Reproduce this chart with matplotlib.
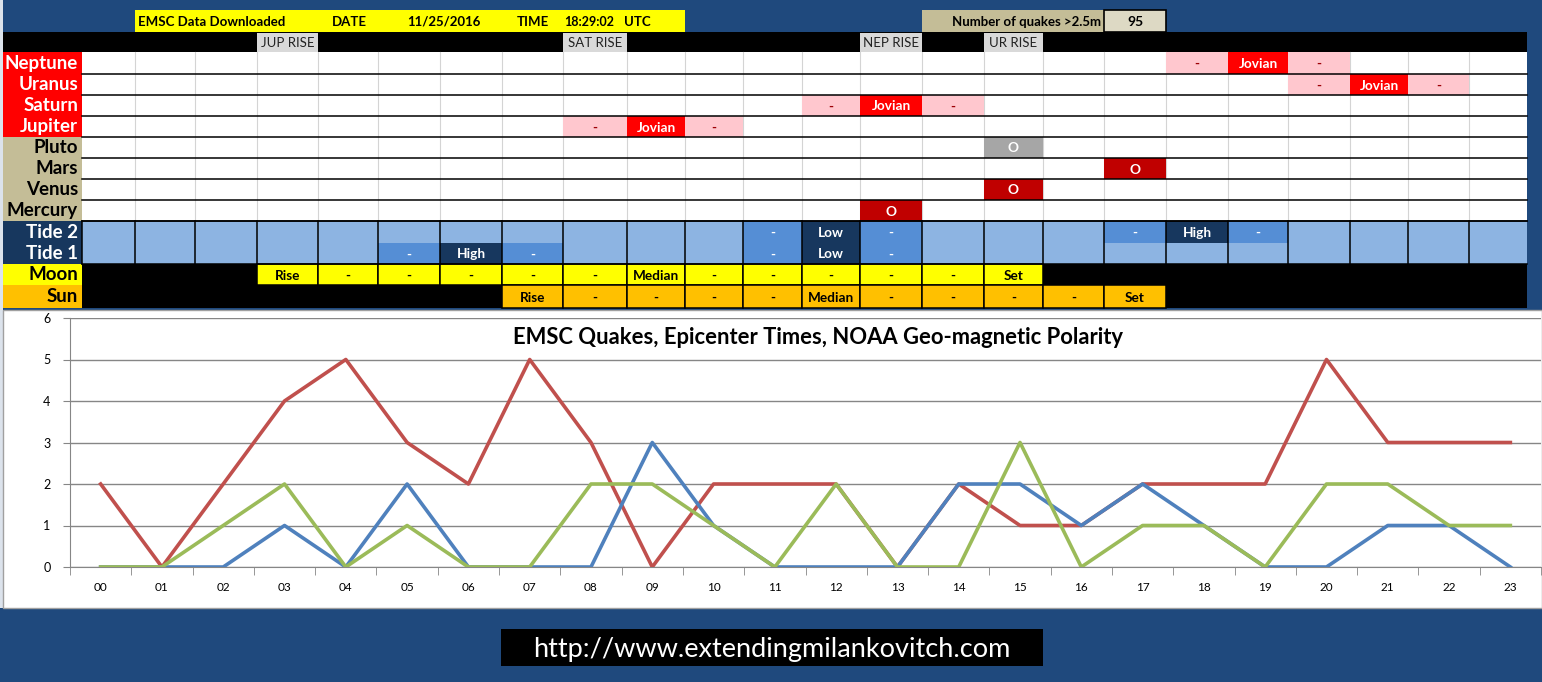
import matplotlib.pyplot as plt
from matplotlib.patches import Rectangle

# chart data: quakes per hour (UTC)
hours = ['00', '01', '02', '03', '04', '05', '06', '07', '08', '09', '10', '11',
         '12', '13', '14', '15', '16', '17', '18', '19', '20', '21', '22', '23']
red_counts = [2, 0, 2, 4, 5, 3, 2, 5, 3, 0, 2, 2, 2, 0, 2, 1, 1, 2, 2, 2, 5, 3, 3, 3]
blue_counts = [0, 0, 0, 1, 0, 2, 0, 0, 0, 3, 1, 0, 0, 0, 2, 2, 1, 2, 1, 0, 0, 1, 1, 0]
green_counts = [0, 0, 1, 2, 0, 1, 0, 0, 2, 2, 1, 0, 2, 0, 0, 3, 0, 1, 1, 0, 2, 2, 1, 1]

# table data: hour -> cell text
planet_labels = ['Neptune', 'Uranus', 'Saturn', 'Jupiter', 'Pluto', 'Mars', 'Venus', 'Mercury']
neptune = {18: '-', 19: 'Jovian', 20: '-'}
uranus = {20: '-', 21: 'Jovian', 22: '-'}
saturn = {12: '-', 13: 'Jovian', 14: '-'}
jupiter = {8: '-', 9: 'Jovian', 10: '-'}
pluto = {15: 'O'}
mars = {17: 'O'}
venus = {15: 'O'}
mercury = {13: 'O'}
tide2 = {11: '-', 12: 'Low', 13: '-', 17: '-', 18: 'High', 19: '-'}
tide1 = {5: '-', 6: 'High', 7: '-', 11: '-', 12: 'Low', 13: '-'}
moon_start = 3
moon = ['Rise', '-', '-', '-', '-', '-', 'Median', '-', '-', '-', '-', '-', 'Set']
sun_start = 7
sun = ['Rise', '-', '-', '-', '-', 'Median', '-', '-', '-', '-', 'Set']
rise_labels = {3: 'JUP RISE', 8: 'SAT RISE', 13: 'NEP RISE', 15: 'UR RISE'}
quake_total = 95

W, H = 1542, 682
NAVY = '#1F497D'
col_edges = [82, 135, 195, 257, 318, 378, 440, 502, 563, 627, 685, 743, 802,
             860, 922, 984, 1043, 1104, 1166, 1228, 1288, 1350, 1408, 1469, 1527]
row_edges = [52, 74, 95, 116, 137, 158, 179, 200, 221, 243, 264, 285, 308]
plt.rcParams['font.family'] = ['Lato', 'DejaVu Sans']

fig = plt.figure(figsize=(W / 100, H / 100), dpi=100)
fig.patch.set_facecolor(NAVY)
bg = fig.add_axes([0, 0, 1, 1])
bg.set_xlim(0, W)
bg.set_ylim(H, 0)
bg.axis('off')


def box(x0, y0, x1, y1, color, edge='none', lw=0, z=1):
    bg.add_patch(Rectangle((x0, y0), x1 - x0, y1 - y0, facecolor=color,
                           edgecolor=edge, linewidth=lw, zorder=z))


def cell(col, r0, r1, color, text, tcolor, size=9.8, edge='none', lw=0):
    x0, x1 = col_edges[col], col_edges[col + 1]
    y0, y1 = row_edges[r0], row_edges[r1]
    box(x0, y0, x1, y1, color, edge, lw, z=3)
    bg.text((x0 + x1) / 2, (y0 + y1) / 2 + 1, text, color=tcolor, fontsize=size,
            fontweight='bold', ha='center', va='center', zorder=4)


# left strip
box(0, 0, 3, 608, '#DCE3EC')

# header
box(col_edges[1], 10, col_edges[10], 32, '#FFFF00')
for x, t in [(138, 'EMSC Data Downloaded'), (332, 'DATE'), (407, '11/25/2016'),
             (517, 'TIME')]:
    bg.text(x, 22, t, fontsize=9.5, fontweight='bold', ha='left', va='center')
bg.text(564, 22, '18:29:02', fontsize=9, fontweight='bold', ha='left', va='center')
bg.text(624, 22, 'UTC', fontsize=9.5, fontweight='bold', ha='left', va='center')
box(col_edges[14], 10, col_edges[17], 32, '#C4BD97')
bg.text(col_edges[17] - 3, 22, 'Number of quakes >2.5m', fontsize=9.5,
        fontweight='bold', ha='right', va='center')
box(col_edges[17], 10, col_edges[18], 32, '#DDD9C4', 'black', 1.2, z=2)
bg.text((col_edges[17] + col_edges[18]) / 2, 22, str(quake_total), fontsize=10,
        fontweight='bold', ha='center', va='center', zorder=3)

# rise row
box(3, 32, col_edges[-1], row_edges[0], 'black')
for c, t in rise_labels.items():
    x0, x1 = col_edges[c], col_edges[c + 1]
    box(x0, 33, x1, row_edges[0], '#D9D9D9', z=2)
    bg.text((x0 + x1) / 2, 43, t, fontsize=9.5, color='#222222', ha='center',
            va='center', zorder=3)

# planet rows
box(col_edges[0], row_edges[0], col_edges[-1], row_edges[8], 'white')
for x in col_edges[1:-1]:
    bg.plot([x, x], [row_edges[0], row_edges[8]], color='#D4D4D4', lw=0.8, zorder=2)
for y in row_edges[1:9]:
    bg.plot([col_edges[0], col_edges[-1]], [y, y], color='black', lw=1.1, zorder=5)

planet_events = [neptune, uranus, saturn, jupiter, pluto, mars, venus, mercury]
for r, events in enumerate(planet_events):
    for c, t in events.items():
        if t == 'Jovian':
            cell(c, r, r + 1, '#FF0000', t, 'white')
        elif t == '-':
            cell(c, r, r + 1, '#FFC7CE', t, '#9C0006')
        elif r == 4:
            cell(c, r, r + 1, '#A6A6A6', t, 'white')
        else:
            cell(c, r, r + 1, '#C00000', t, 'white')

# tide rows
box(col_edges[0], row_edges[8], col_edges[-1], row_edges[10], '#8DB4E2')
for r, events in [(8, tide2), (9, tide1)]:
    for c, t in events.items():
        color = '#17375E' if t != '-' else '#558ED5'
        cell(c, r, r + 1, color, t, 'white')
for x in col_edges[:-1]:
    bg.plot([x, x], [row_edges[8], row_edges[10]], color='black', lw=1.1, zorder=5)
for y in [row_edges[8], row_edges[10]]:
    bg.plot([col_edges[0], col_edges[-1]], [y, y], color='black', lw=1.1, zorder=5)

# moon and sun rows
box(col_edges[0], row_edges[10], col_edges[-1], row_edges[12], 'black')
for i, t in enumerate(moon):
    cell(moon_start + i, 10, 11, '#FFFF00', t, 'black', edge='black', lw=1.1)
for i, t in enumerate(sun):
    cell(sun_start + i, 11, 12, '#FFC000', t, 'black', edge='black', lw=1.1)

# row labels
label_colors = ['#FF0000'] * 4 + ['#C4BD97'] * 4
for r, (name, lc) in enumerate(zip(planet_labels, label_colors)):
    box(3, row_edges[r], col_edges[0], row_edges[r + 1], lc, z=2)
    bg.text(col_edges[0] - 4, (row_edges[r] + row_edges[r + 1]) / 2, name,
            color='white' if r < 4 else 'black', fontsize=13.5, fontweight='bold',
            ha='right', va='center', zorder=6)
side = [('Tide 2', '#17375E', 'white'), ('Tide 1', '#17375E', 'white'),
        ('Moon', '#FFFF00', 'black'), ('Sun', '#FFC000', 'black')]
for i, (name, lc, tc) in enumerate(side):
    r = 8 + i
    box(3, row_edges[r], col_edges[0], row_edges[r + 1], lc, z=2)
    bg.text(col_edges[0] - 4, (row_edges[r] + row_edges[r + 1]) / 2, name,
            color=tc, fontsize=13.5, fontweight='bold', ha='right', va='center', zorder=6)

# chart panel
box(3, 310, W, 608, 'white', '#A0A0A0', 1.0)
box(col_edges[-1], 0, W, 308, NAVY, z=2)

# url
box(501, 629, 1043, 666, 'black')
bg.text(772, 649, 'http://www.extendingmilankovitch.com', color='white',
        fontsize=19.5, ha='center', va='center')

# line chart
ax = fig.add_axes([70 / W, (H - 567) / H, 1471 / W, 249 / H])
ax.set_facecolor('none')
x = range(len(hours))
ax.plot(x, red_counts, color='#C0504D', lw=2.6, zorder=3)
ax.plot(x, blue_counts, color='#4F81BD', lw=2.6, zorder=4)
ax.plot(x, green_counts, color='#9BBB59', lw=2.6, zorder=5)
ax.set_xlim(-0.5, 23.5)
ax.set_ylim(0, 6)
ax.set_yticks(range(7))
ax.yaxis.grid(True, color='#868686', lw=1.0)
ax.set_axisbelow(True)
ax.set_xticks(list(x))
ax.set_xticklabels(hours, fontsize=8.5)
ax.set_xticks([i - 0.5 for i in range(25)], minor=True)
ax.tick_params(axis='x', which='major', length=0, pad=11)
ax.tick_params(axis='x', which='minor', length=6, color='#868686', direction='out')
ax.tick_params(axis='y', length=5, color='#868686', labelsize=9, pad=9)
for s in ['top', 'right']:
    ax.spines[s].set_visible(False)
for s in ['left', 'bottom']:
    ax.spines[s].set_color('#868686')
bg.text(818, 338, 'EMSC Quakes, Epicenter Times, NOAA Geo-magnetic Polarity',
        fontsize=15.8, fontweight='bold', ha='center', va='center', zorder=6)

fig.savefig('out.png', dpi=100, facecolor=fig.get_facecolor())
